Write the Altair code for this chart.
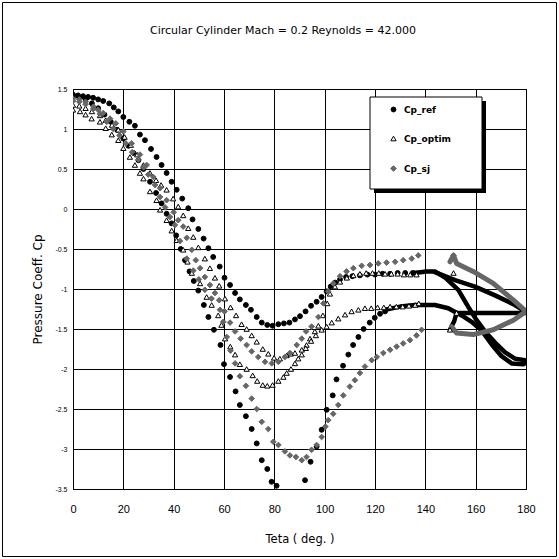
import altair as alt
import pandas as pd

# ---------------- data (theta in degrees, Cp) ----------------
series_names = ["Cp_ref", "Cp_optim", "Cp_sj"]

ref_upper = [(0,1.43),(2,1.42),(4,1.41),(6,1.40),(8,1.39),(10,1.37),(12,1.35),(14.4,1.32),(16.2,1.27),(18,1.22),
             (20,1.15),(22.4,1.09),(24.6,1.04),(26.6,0.93),(28.6,0.86),(31,0.75),(33.2,0.65),(35.2,0.55),(37.2,0.45),(39.2,0.34),
             (41.2,0.24),(43.4,0.13),(45.8,0.01),(47.5,-0.13),(49.8,-0.25),(51.9,-0.37),(53.8,-0.49),(55.7,-0.60),(58.3,-0.72),(60.2,-0.86),
             (62.4,-0.95),(64.4,-1.05),(66.3,-1.13),(68.7,-1.20),(70.7,-1.26),(73,-1.35),(75,-1.42),(77.2,-1.45),(79.3,-1.46),(81.6,-1.44),
             (83.8,-1.43),(86,-1.42),(88.2,-1.38),(90.2,-1.34),(92.4,-1.28),(94.6,-1.21),(96.8,-1.16),(98.8,-1.10),(100.8,-1.03),(102.4,-0.97),
             (104.2,-0.92),(106.1,-0.88),(108.5,-0.85),(111,-0.84),(114,-0.83),(117,-0.82),(120,-0.82),(123,-0.81),(126,-0.81),(129,-0.80),
             (132,-0.80),(135,-0.80)]
ref_lower = [(0,1.40),(2.5,1.39),(5,1.37),(7.5,1.32),(10,1.26),(12.5,1.18),(15,1.09),(17.5,0.99),(20,0.88),(22,0.79),
             (24,0.70),(26,0.61),(28,0.50),(30.6,0.34),(33,0.20),(35.2,0.07),(37.2,-0.06),(39.2,-0.18),(41,-0.33),(42.8,-0.50),
             (44.5,-0.64),(46.3,-0.78),(48,-0.90),(49.8,-1.02),(52,-1.20),(53.8,-1.35),(56,-1.51),(58.6,-1.70),(60,-1.94),(62.4,-2.10),
             (64.6,-2.28),(66.3,-2.45),(68.7,-2.59),(71,-2.75),(73,-2.93),(75,-3.14),(77.2,-3.25),(78.9,-3.41),(80.9,-3.46),(92.2,-3.39),
             (94.4,-3.16),(96.8,-2.97),(98.8,-2.76),(100.8,-2.51),(103.2,-2.33),(104.7,-2.13),(107.3,-1.96),(109.4,-1.82),(111.3,-1.70),(113.4,-1.60),
             (115.5,-1.50),(117.9,-1.42),(119.9,-1.36),(122,-1.31),(124,-1.28)]
ref_tail_upper = [(135,-0.80),(138,-0.79),(140.5,-0.78),(143.8,-0.78),(148,-0.86),(153.1,-1.01),(157,-1.22),(160.4,-1.39),
                  (163.7,-1.53),(167.7,-1.67),(171.6,-1.79),(175.6,-1.87),(179.6,-1.89)]
ref_tail_branch = [(143.8,-0.79),(151.8,-0.89),(159.7,-0.97),(167.7,-1.08),(175.6,-1.20),(179.6,-1.28)]
ref_tail_lower = [(124,-1.26),(130,-1.22),(135.9,-1.20),(143.8,-1.20),(149.1,-1.24),(154.4,-1.33),(158.4,-1.41),(162.4,-1.52),
                  (166.3,-1.69),(170.3,-1.84),(174.3,-1.93),(178.9,-1.94),(180,-1.92)]

optim_upper = [(0,1.30),(2.5,1.29),(5,1.26),(7.5,1.22),(10.7,1.17),(13,1.11),(15.5,1.05),(18,0.99),(20.5,0.90),(23,0.80),
               (25.5,0.68),(28,0.55),(30.6,0.45),(33,0.36),(35,0.30),(37.2,0.24),(39.8,0.13),(41.8,0.03),(43.8,-0.08),(45.8,-0.24),
               (47.8,-0.35),(49.8,-0.48),(52.4,-0.62),(54.4,-0.74),(56.4,-0.86),(58.1,-0.96),(60.4,-1.12),(62.6,-1.23),(64.8,-1.33),(67,-1.44),
               (69,-1.50),(71,-1.58),(73,-1.66),(75.4,-1.75),(77.6,-1.81),(79.9,-1.86),(82.2,-1.87),(84.9,-1.83),(86.5,-1.81),(88.2,-1.80),
               (90.9,-1.76),(92.8,-1.70),(94.2,-1.62),(96.1,-1.53),(97.5,-1.46),(99.3,-1.33),(101,-1.18),(102.1,-1.06),(104.1,-0.97),(106.1,-0.91),
               (108.8,-0.86),(111.4,-0.83),(114,-0.81),(116.5,-0.80),(119,-0.80),(121.5,-0.80),(124,-0.81),(126.5,-0.81),(129,-0.81),(131.5,-0.82),
               (134,-0.82),(136.5,-0.82),(151.2,-0.80)]
optim_lower = [(0,1.24),(2.8,1.22),(5,1.18),(7.4,1.13),(10.7,1.09),(13,1.01),(15.4,0.93),(18,0.86),(20,0.76),(22.6,0.65),
               (24.6,0.55),(26.6,0.45),(28,0.38),(30.6,0.22),(33.2,0.11),(34.6,-0.01),(37.2,-0.14),(39.2,-0.27),(41.2,-0.39),(43.8,-0.51),
               (45.5,-0.66),(47.2,-0.80),(50.5,-0.93),(53.1,-1.10),(55.1,-1.20),(57.7,-1.33),(59,-1.45),(60.4,-1.62),(62.5,-1.72),(64.4,-1.82),
               (66.3,-1.94),(69,-2.00),(71.4,-2.08),(73.2,-2.15),(75.4,-2.20),(77.2,-2.21),(79.3,-2.20),(81.6,-2.15),(83.6,-2.10),(84.9,-2.05),
               (86.6,-2.00),(88.2,-1.93),(89.5,-1.87),(90.9,-1.82),(92.5,-1.74),(94.6,-1.65),(96.5,-1.58),(98.8,-1.51),(100.8,-1.47),(102.8,-1.42),
               (105.4,-1.37),(108.1,-1.32),(110.7,-1.28),(113.4,-1.26),(116,-1.24),(118.5,-1.24),(121,-1.23),(123.5,-1.23),(126,-1.22),(128.5,-1.22),
               (131,-1.22),(133.5,-1.21),(136,-1.20),(137.4,-1.18),(149.8,-1.51),(152.4,-1.30)]
optim_tail = [(149.8,-1.51),(151.5,-1.40),(152.4,-1.30),(163,-1.30),(180,-1.30)]

sj_upper = [(0,1.38),(2.5,1.37),(5,1.34),(8.1,1.28),(10,1.24),(12,1.20),(14.7,1.13),(17,1.07),(20,0.97),(23.3,0.82),
            (26.6,0.68),(29.3,0.55),(31.9,0.40),(34.6,0.26),(37.2,0.11),(40,-0.04),(41.8,-0.14),(43.8,-0.22),(45.2,-0.36),(47.2,-0.51),
            (48.8,-0.64),(50.5,-0.74),(52.4,-0.85),(54.4,-0.95),(56.4,-1.05),(58.1,-1.14),(60.2,-1.28),(62.4,-1.42),(64.4,-1.53),(66.6,-1.62),
            (69,-1.70),(71,-1.78),(73.6,-1.85),(76.3,-1.91),(79,-1.93),(81.6,-1.91),(84.2,-1.85),(86.2,-1.80),(88.9,-1.70),(90.9,-1.62),
            (92.6,-1.53),(94.8,-1.47),(97.5,-1.35),(99.5,-1.18),(101.4,-1.03),(103.4,-0.93),(106.1,-0.84),(108.7,-0.78),(111.4,-0.74),(114.7,-0.71),
            (118,-0.70),(121.3,-0.68),(124.6,-0.67),(128,-0.66),(131.2,-0.64),(134.6,-0.62),(137.2,-0.58)]
sj_lower = [(0,1.35),(2.5,1.34),(5,1.31),(8,1.25),(10.7,1.19),(13.4,1.09),(16,1.00),(18.5,0.92),(21,0.82),(23.5,0.71),
            (26,0.62),(28,0.52),(29.9,0.43),(32.6,0.30),(34.6,0.15),(36.6,0.02),(38.5,-0.10),(40.5,-0.20),(42.5,-0.40),(45.2,-0.62),
            (47.8,-0.77),(50,-0.88),(52.4,-1.01),(55,-1.12),(58.4,-1.26),(59.7,-1.41),(61.1,-1.60),(62.6,-1.77),(64.4,-1.93),(66.3,-2.09),
            (68.7,-2.21),(71,-2.37),(73,-2.50),(75,-2.66),(77.6,-2.75),(79.6,-2.91),(81.6,-2.95),(84.2,-3.03),(86.2,-3.08),(88.6,-3.10),
            (90.9,-3.14),(92.8,-3.10),(94.8,-3.01),(96.8,-2.95),(98.8,-2.85),(100.3,-2.72),(101.4,-2.64),(103.4,-2.56),(105.4,-2.45),(107.4,-2.33),
            (110,-2.22),(112,-2.14),(114,-2.05),(116,-1.97),(118.7,-1.89),(120.7,-1.85),(123.3,-1.80),(126,-1.76),(128.6,-1.72),(131.2,-1.68),
            (133.9,-1.64),(136.5,-1.58),(138.5,-1.51),(151.2,-0.58)]
sj_tail = [(149.8,-0.66),(151.2,-0.58),(152.4,-0.68),(159,-0.78),(167,-0.93),(175,-1.14),(180,-1.28),
           (175,-1.39),(167,-1.51),(159,-1.57),(152.4,-1.55),(150.4,-1.47)]

title_text = "Circular Cylinder  Mach = 0.2  Reynolds = 42.000"
x_ticks = [0, 20, 40, 60, 80, 100, 120, 140, 160, 180]
y_ticks = [1.5, 1, 0.5, 0, -0.5, -1, -1.5, -2, -2.5, -3, -3.5]

# ---------------- tables ----------------
pt_rows = []
for name, branches in [("Cp_ref", [ref_upper, ref_lower]),
                       ("Cp_optim", [optim_upper, optim_lower]),
                       ("Cp_sj", [sj_upper, sj_lower])]:
    for br in branches:
        for t, c in br:
            pt_rows.append({"series": name, "theta": t, "cp": c})
pts = pd.DataFrame(pt_rows)

def line_table(segs):
    rows = []
    for s, seg in enumerate(segs):
        for i, (t, c) in enumerate(seg):
            rows.append({"seg": s, "idx": i, "theta": t, "cp": c})
    return pd.DataFrame(rows)

black_lines = line_table([ref_tail_upper, ref_tail_branch, ref_tail_lower, optim_tail])
gray_lines = line_table([sj_tail])

FONT = "Liberation Sans"
WIDE = "DejaVu Sans"
xscale = alt.Scale(domain=[0, 180], nice=False, zero=False)
yscale = alt.Scale(domain=[-3.5, 1.5], nice=False, zero=False)

X = alt.X("theta:Q", scale=xscale,
          axis=alt.Axis(values=x_ticks, title="Teta ( deg. )", ticks=False, labelFontSize=11,
                        labelPadding=14, titleFontSize=11.5, titleFontWeight="normal", titleFont=WIDE,
                        titleY=50, titleBaseline="middle", grid=True, labelFlush=False))
Y = alt.Y("cp:Q", scale=yscale,
          axis=alt.Axis(values=y_ticks, title="Pressure Coeff. Cp", ticks=False, labelFontSize=7,
                        labelPadding=6, labelExpr="'' + datum.value", titleFontSize=12, titleFont=WIDE,
                        titleFontWeight="normal", titleX=-36, titleY=200, titleAlign="center",
                        titleBaseline="middle", grid=True, labelFlush=False))

one = pd.DataFrame({"a": [0]})
frame = alt.Chart(one).mark_rect(fill=None, stroke="black", strokeWidth=1).encode(
    x=alt.value(-70.5), x2=alt.value(483.5), y=alt.value(-86.5), y2=alt.value(467.5))

lines_black = alt.Chart(black_lines).mark_line(strokeWidth=4.5, strokeCap="round", strokeJoin="round",
                                               color="black", clip=True).encode(
    x=X, y=Y, detail="seg:N", order="idx:Q")
lines_gray = alt.Chart(gray_lines).mark_line(strokeWidth=5, strokeCap="round", strokeJoin="round",
                                             color="#666666", clip=True).encode(
    x=X, y=Y, detail="seg:N", order="idx:Q")

leg = alt.Legend(title=None, orient="none", legendX=316, legendY=16, labelFontSize=9, labelFont=WIDE,
                 labelFontWeight="bold", rowPadding=19, labelOffset=6, symbolStrokeWidth=1, padding=0,
                 labelColor="black")
points = alt.Chart(pts).mark_point(filled=False, strokeWidth=1, opacity=1, clip=True).encode(
    x=X, y=Y,
    shape=alt.Shape("series:N", scale=alt.Scale(domain=series_names, range=["circle", "triangle-up", "diamond"]), legend=leg),
    color=alt.Color("series:N", scale=alt.Scale(domain=series_names, range=["#000000", "#000000", "#666666"]), legend=leg),
    fill=alt.Fill("series:N", scale=alt.Scale(domain=series_names, range=["#000000", "#ffffff", "#666666"]), legend=leg),
    size=alt.Size("series:N", scale=alt.Scale(domain=series_names, range=[24, 32, 28]), legend=leg),
)

shadow = alt.Chart(one).mark_rect(fill="black").encode(
    x=alt.value(301), x2=alt.value(413), y=alt.value(12), y2=alt.value(104))
box = alt.Chart(one).mark_rect(fill="white", stroke="black", strokeWidth=1).encode(
    x=alt.value(297), x2=alt.value(409), y=alt.value(8), y2=alt.value(100))

title_mark = alt.Chart(one).mark_text(text=title_text, font=WIDE, fontSize=11, color="black",
                                      align="center", baseline="alphabetic").encode(
    x=alt.value(210), y=alt.value(-55))

chart = alt.layer(frame, lines_black, lines_gray, points, shadow, box, title_mark).properties(
    width=453, height=400,
    autosize=alt.AutoSizeParams(type="none"),
    padding={"left": 73, "top": 89, "right": 33, "bottom": 70},
).configure(background="white").configure_view(stroke="black", strokeWidth=1).configure_axis(
    gridColor="black", gridOpacity=1, gridWidth=1, domainColor="black", labelColor="black",
    titleColor="black", labelFont=FONT, titleFont=FONT)

chart.save("out.html", embed_options={"renderer": "svg", "actions": False})
